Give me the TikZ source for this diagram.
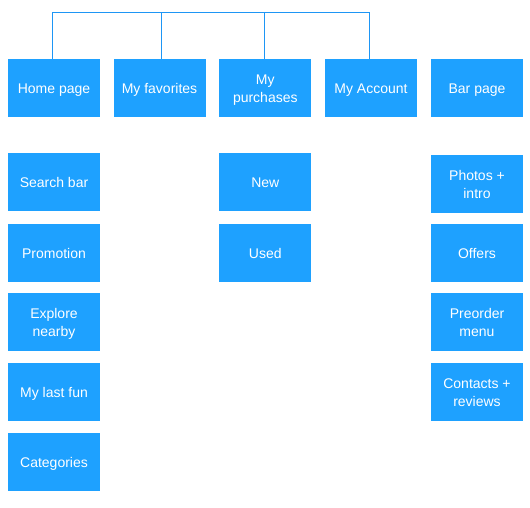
\documentclass[tikz,border=0pt]{standalone}
\usepackage{fontspec}
\setmainfont{Liberation Sans}
\definecolor{boxblue}{RGB}{30,161,255}
\definecolor{lineblue}{RGB}{30,150,245}
\begin{document}
\begin{tikzpicture}[x=1pt,y=-1pt,
  box/.style={fill=boxblue, draw=none, minimum width=92pt, minimum height=58pt,
    inner sep=0pt, text height=10pt, text depth=0pt, text=white, align=center,
    font=\fontsize{14}{18}\selectfont},
  twoline/.style={box, text height=28pt},
  conn/.style={draw=lineblue, line width=1pt}]
\useasboundingbox (0,0) rectangle (530,507);
% top row
\node[box] (home) at (54,88) {Home page};
\node[box] (fav) at (159.5,88) {My favorites};
\node[twoline] (purch) at (265.3,88) {My\\purchases};
\node[box] (acc) at (371,88) {My Account};
\node[box] (bar) at (477,88) {Bar page};
% left column
\node[box] (search) at (54,182) {Search bar};
\node[box] (promo) at (54,253) {Promotion};
\node[twoline] (explore) at (54,322) {Explore\\nearby};
\node[box] (lastfun) at (54,392) {My last fun};
\node[box] (cat) at (54,462) {Categories};
% middle column
\node[box] (new) at (265.3,182) {New};
\node[box] (used) at (265.3,253) {Used};
% right column
\node[twoline] (photos) at (477,184) {Photos +\\intro};
\node[box] (offers) at (477,253) {Offers};
\node[twoline] (preorder) at (477,322) {Preorder\\menu};
\node[twoline] (contacts) at (477,392) {Contacts +\\reviews};
% connectors
\coordinate (tl) at (52.5,12.5);
\coordinate (tr) at (369.3,12.5);
\draw[conn] ([xshift=-1.5pt]home.north) -- (tl) -- (tr) -- ([xshift=-1.7pt]acc.north);
\draw[conn] ([xshift=1.5pt]fav.north) -- ([xshift=1.5pt]fav.north |- tl);
\draw[conn] ([xshift=-0.8pt]purch.north) -- ([xshift=-0.8pt]purch.north |- tl);
\end{tikzpicture}
\end{document}
